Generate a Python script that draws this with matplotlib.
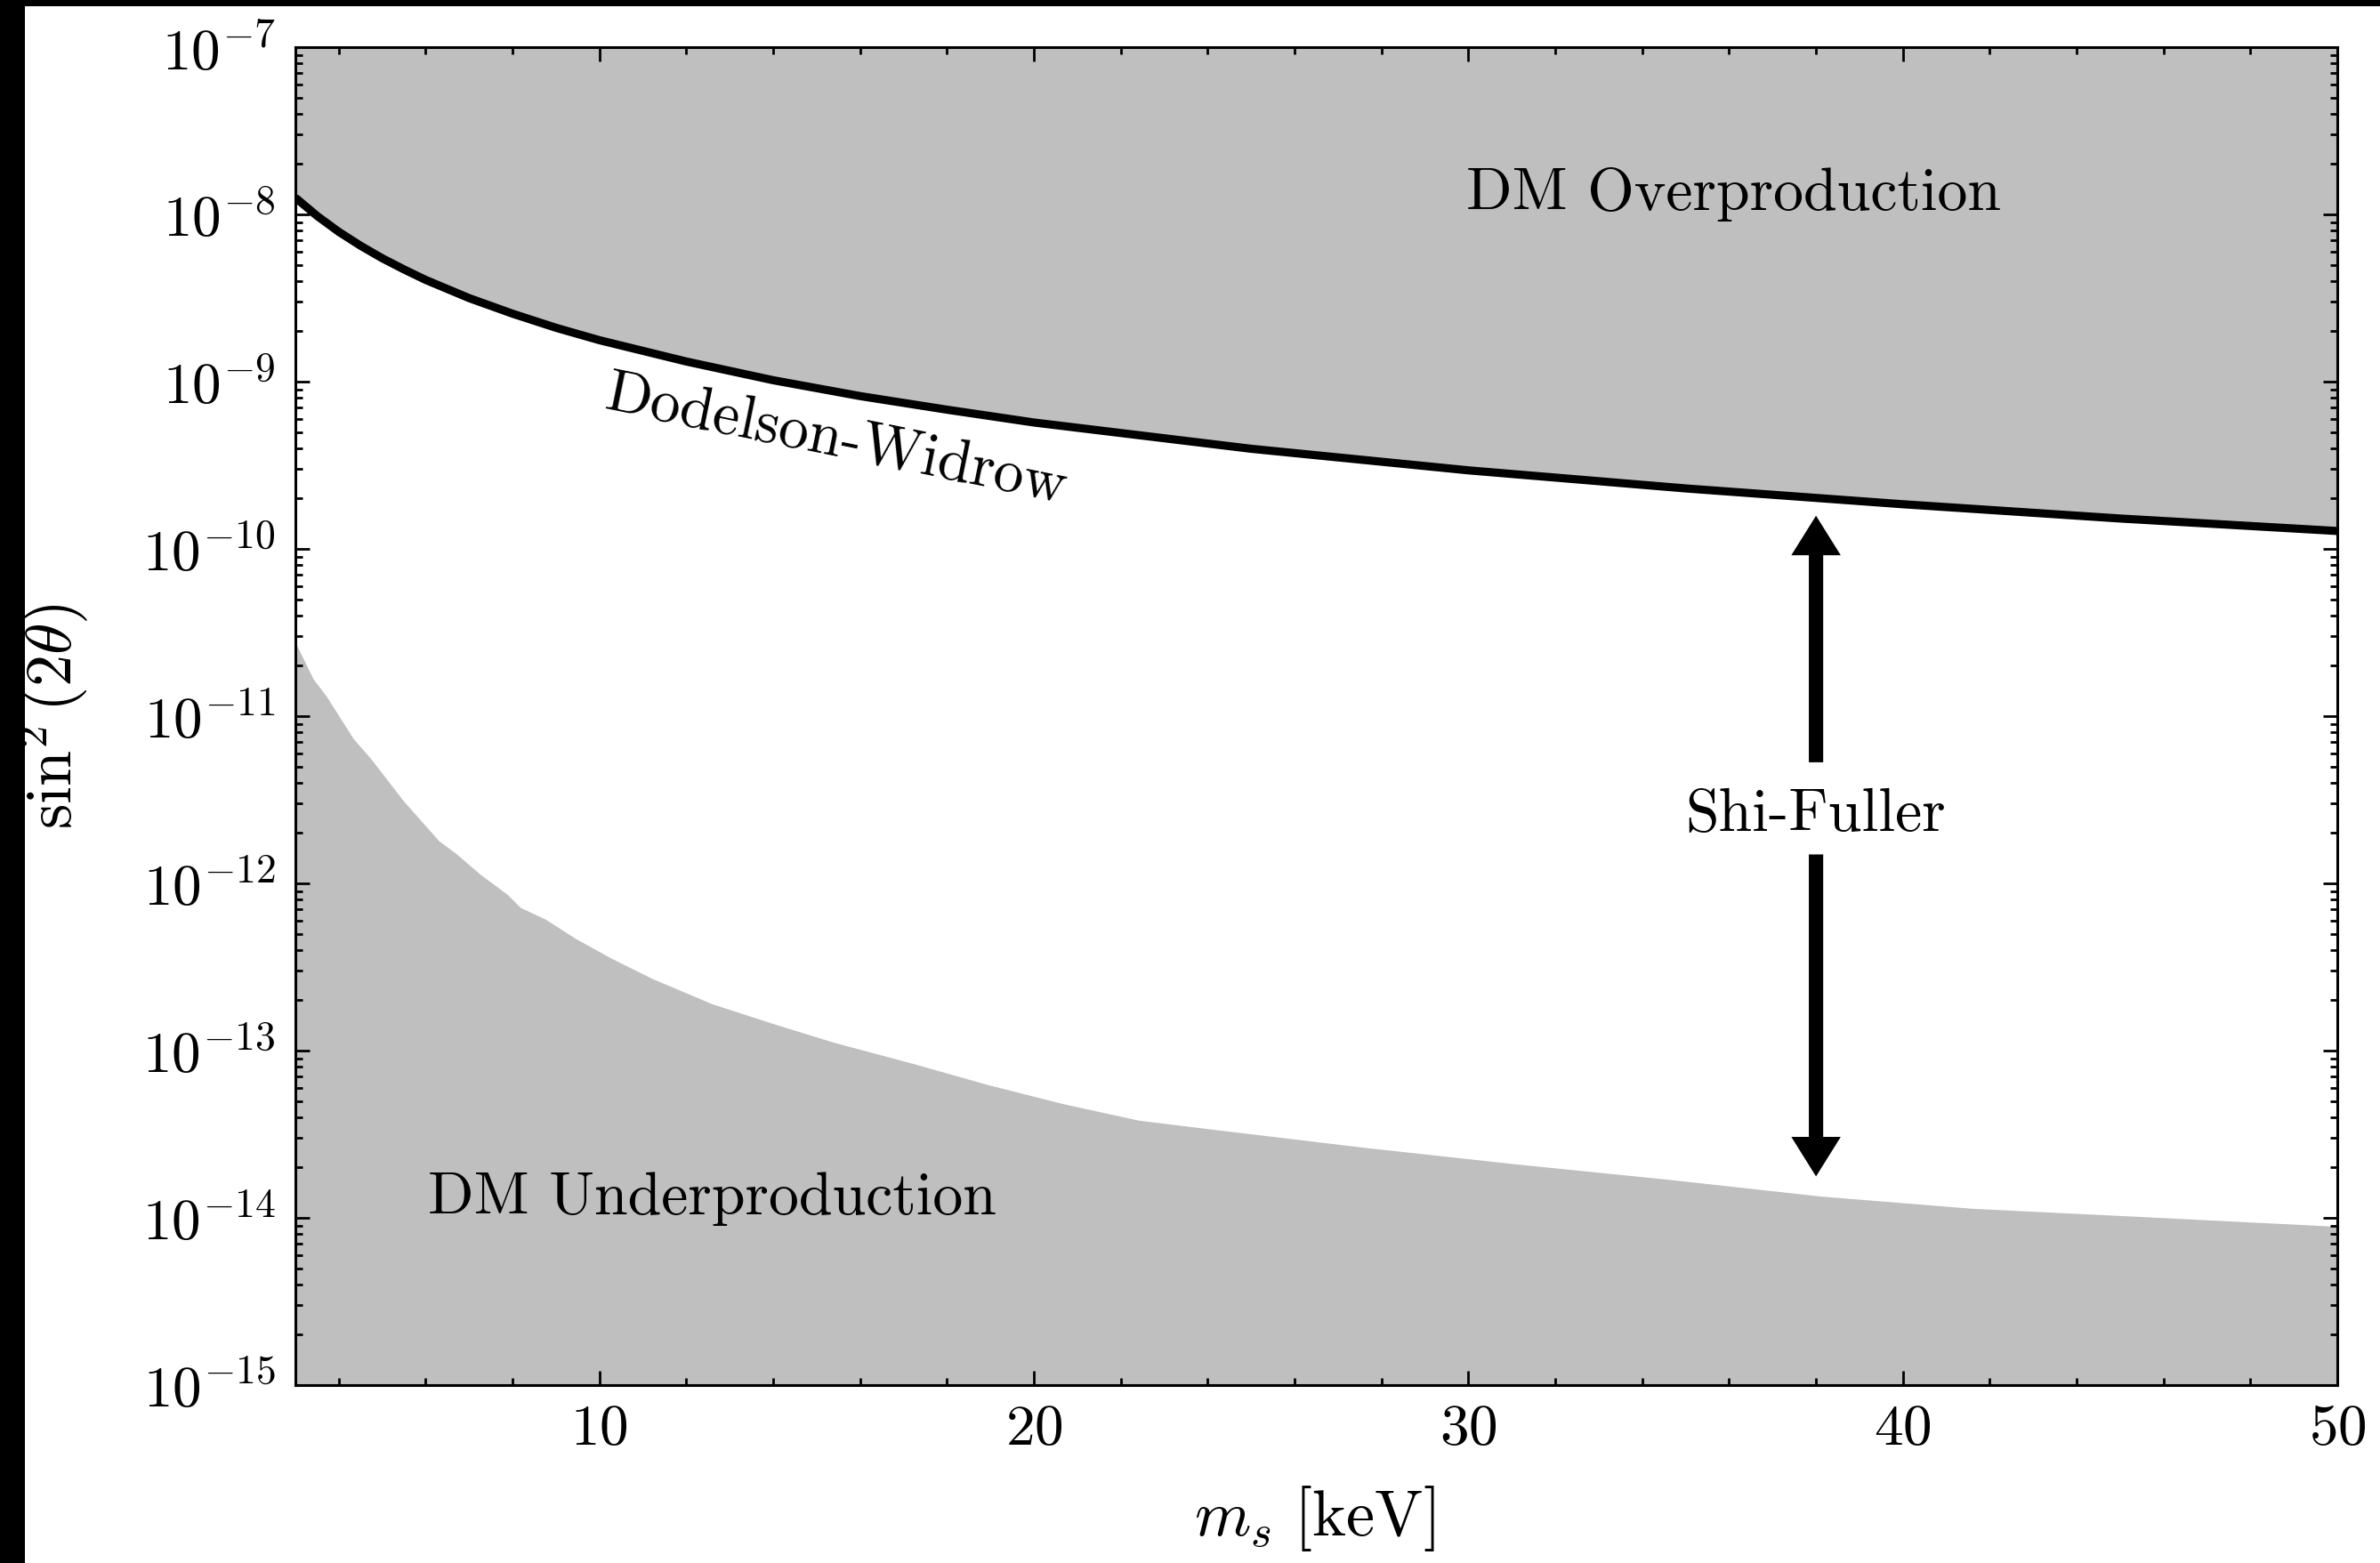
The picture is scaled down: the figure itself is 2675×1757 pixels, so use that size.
import numpy as np
import matplotlib
matplotlib.use("Agg")
import matplotlib.pyplot as plt
from matplotlib.patches import Rectangle
from matplotlib.ticker import MultipleLocator, LogLocator, NullFormatter

plt.rcParams["font.family"] = "serif"
plt.rcParams["font.serif"] = ["cmr10"]
plt.rcParams["mathtext.fontset"] = "cm"
plt.rcParams["axes.formatter.use_mathtext"] = True
plt.rcParams["axes.unicode_minus"] = False

# Dodelson-Widrow line
dw_mass = [3, 3.5, 4, 4.5, 5, 5.5, 6, 7, 8, 9, 10, 12, 14, 16, 18, 20, 25, 30, 35,
           40, 45, 50]
dw_sin2 = [1.26e-8, 9.8e-9, 7.87e-9, 6.5e-9, 5.47e-9, 4.69e-9, 4.06e-9, 3.16e-9,
           2.55e-9, 2.10e-9, 1.77e-9, 1.32e-9, 1.02e-9, 8.2e-10, 6.8e-10, 5.7e-10,
           3.97e-10, 2.95e-10, 2.30e-10, 1.85e-10, 1.52e-10, 1.28e-10]

# lower edge of the underproduction region
under_mass = [3.0, 3.41, 3.72, 4.33, 4.74, 5.48, 5.97, 6.30, 6.71, 7.26, 7.87, 8.18,
              8.75, 9.45, 10.27, 11.21, 12.58, 14.0, 15.4, 17.2, 18.9, 20.65, 22.4,
              24.1, 27.6, 31.1, 34.6, 38.1, 41.6, 45.1, 50.0]
under_sin2 = [2.76e-11, 1.67e-11, 1.31e-11, 7.36e-12, 5.56e-12, 3.13e-12, 2.25e-12,
              1.80e-12, 1.50e-12, 1.13e-12, 8.63e-13, 7.18e-13, 6.12e-13, 4.68e-13,
              3.57e-13, 2.70e-13, 1.91e-13, 1.45e-13, 1.12e-13, 8.4e-14, 6.3e-14,
              4.83e-14, 3.84e-14, 3.39e-14, 2.64e-14, 2.10e-14, 1.70e-14, 1.35e-14,
              1.14e-14, 1.03e-14, 8.9e-15]

# Shi-Fuller arrow
sf_mass = 38
sf_top, sf_upper_gap = 1.58e-10, 5.3e-12
sf_bottom, sf_lower_gap = 1.77e-14, 1.49e-12
sf_label_y = 2.57e-12

fs = 26        # axis labels
fs_tick = 23.5
fs_txt = 24.4  # annotations in the plot

fig = plt.figure(figsize=(13.375, 8.785), dpi=200)
fig.patch.set_facecolor("black")
fig.add_artist(Rectangle((28 / 2675, 0), 1, 1 - 7 / 1757, transform=fig.transFigure,
                         facecolor="white", edgecolor="none", zorder=-10))

ax = fig.add_axes([0.1241, 0.1138, 0.8580, 0.8560])

ax.fill_between(dw_mass, dw_sin2, 1e-7, color="0.75", lw=0)
ax.fill_between(under_mass, 1e-16, under_sin2, color="0.75", lw=0)
ax.plot(dw_mass, dw_sin2, color="k", lw=3.3, solid_capstyle="butt")

ax.set_yscale("log")
ax.set_xlim(3, 50)
ax.set_ylim(1e-15, 1e-7)

ax.text(36.1, 1.32e-8, "DM Overproduction", fontsize=fs_txt, ha="center", va="center")
ax.text(12.59, 1.30e-14, "DM Underproduction", fontsize=fs_txt, ha="center", va="center")
ax.text(15.45, 4.47e-10, "Dodelson-Widrow", fontsize=fs_txt, ha="center", va="center",
        rotation=-11.5, rotation_mode="anchor")
ax.text(sf_mass, sf_label_y, "Shi-Fuller", fontsize=fs_txt, ha="center", va="center")

arrow_style = "simple,head_width=2.0,head_length=1.6,tail_width=0.58"
for tip, start in [(sf_top, sf_upper_gap), (sf_bottom, sf_lower_gap)]:
    ax.annotate("", xy=(sf_mass, tip), xytext=(sf_mass, start),
                arrowprops=dict(arrowstyle=arrow_style, color="k", lw=0,
                                shrinkA=0, shrinkB=0, mutation_scale=10))

ax.xaxis.set_major_locator(MultipleLocator(10))
ax.xaxis.set_minor_locator(MultipleLocator(2))
ax.yaxis.set_major_locator(LogLocator(base=10, numticks=20))
ax.yaxis.set_minor_locator(LogLocator(base=10, subs=np.arange(2, 10), numticks=20))
ax.yaxis.set_minor_formatter(NullFormatter())

ax.tick_params(which="both", direction="in", top=True, right=True,
               labelsize=fs_tick, pad=8)
ax.tick_params(which="major", length=5.8, width=1.0)
ax.tick_params(which="minor", length=2.9, width=1.0)
for s in ax.spines.values():
    s.set_linewidth(1.1)

ax.set_xlabel(r"$m_s\ [\mathrm{keV}]$", fontsize=fs)
ax.set_ylabel(r"$\sin^{2}(2\theta)$", fontsize=fs)
ax.xaxis.set_label_coords(0.499, -0.0738)
ax.yaxis.set_label_coords(-0.100, 0.5)

fig.savefig("out.png", dpi=200, facecolor=fig.get_facecolor())
